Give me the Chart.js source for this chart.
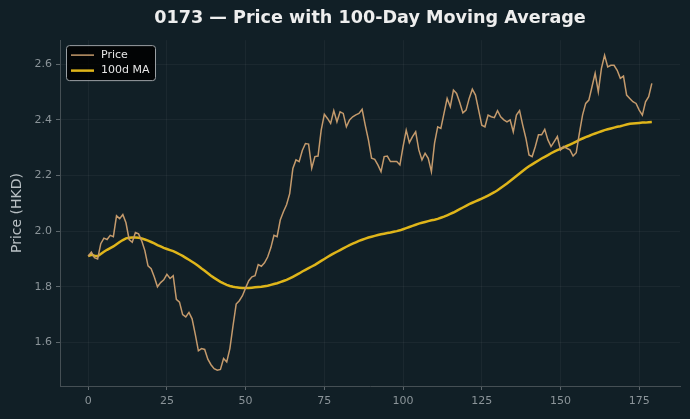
<!DOCTYPE html>
<html>
<head>
<meta charset="utf-8">
<title>0173 — Price with 100-Day Moving Average</title>
<script src="https://cdn.jsdelivr.net/npm/chart.js@4.4.1/dist/chart.umd.min.js"></script>
<style>
    html, body { margin: 0; padding: 0; background: #111f26; }
    #wrap { width: 690px; height: 419px; }
</style>
</head>
<body>
<div id="wrap"><canvas id="price-chart" width="690" height="419"></canvas></div>
<script>
// Cotação diária (HKD)
const price = [
    1.91, 1.925, 1.905, 1.90, 1.955, 1.975, 1.97, 1.985, 1.98, 2.055,
    2.045, 2.06, 2.03, 1.97, 1.96, 1.995, 1.99, 1.965, 1.93, 1.875,
    1.865, 1.835, 1.80, 1.815, 1.825, 1.845, 1.83, 1.84, 1.755, 1.745,
    1.70, 1.692, 1.708, 1.685, 1.63, 1.57, 1.578, 1.575, 1.54, 1.52,
    1.506, 1.50, 1.503, 1.542, 1.53, 1.578, 1.66, 1.738, 1.75, 1.768,
    1.796, 1.822, 1.836, 1.84, 1.88, 1.874, 1.886, 1.907, 1.94, 1.985,
    1.98, 2.04, 2.07, 2.095, 2.135, 2.225, 2.256, 2.25, 2.29, 2.315,
    2.313, 2.226, 2.268, 2.27, 2.363, 2.42, 2.405, 2.387, 2.433, 2.393,
    2.429, 2.423, 2.375, 2.40, 2.411, 2.418, 2.423, 2.438, 2.38, 2.328,
    2.262, 2.258, 2.238, 2.214, 2.268, 2.27, 2.25, 2.25, 2.25, 2.238,
    2.304, 2.363, 2.318, 2.34, 2.357, 2.292, 2.256, 2.28, 2.262, 2.214,
    2.316, 2.375, 2.369, 2.423, 2.477, 2.447, 2.507, 2.495, 2.462, 2.425,
    2.435, 2.477, 2.51, 2.489, 2.435, 2.381, 2.375, 2.417, 2.411, 2.408,
    2.433, 2.411, 2.40, 2.393, 2.40, 2.357, 2.417, 2.433, 2.381, 2.334,
    2.274, 2.268, 2.304, 2.346, 2.346, 2.366, 2.328, 2.304, 2.322, 2.34,
    2.292, 2.304, 2.298, 2.292, 2.27, 2.282, 2.352, 2.417, 2.459, 2.471,
    2.519, 2.567, 2.501, 2.585, 2.632, 2.59, 2.596, 2.596, 2.578, 2.549,
    2.557, 2.489, 2.477, 2.465, 2.459, 2.435, 2.417, 2.465, 2.483, 2.531
];

// Média móvel de 100 dias, também
const ma100 = [
    1.91, 1.915, 1.912, 1.91, 1.918, 1.926, 1.933, 1.939, 1.945, 1.953,
    1.961, 1.968, 1.974, 1.976, 1.977, 1.977, 1.976, 1.974, 1.97, 1.966,
    1.961, 1.956, 1.95, 1.945, 1.94, 1.936, 1.932, 1.928, 1.923, 1.917,
    1.911, 1.904, 1.897, 1.89, 1.883, 1.875, 1.866, 1.858, 1.849, 1.84,
    1.832, 1.825, 1.818, 1.812, 1.807, 1.803, 1.80, 1.798, 1.797, 1.796,
    1.796, 1.796, 1.797, 1.798, 1.799, 1.80, 1.802, 1.804, 1.807, 1.81,
    1.813, 1.817, 1.821, 1.825, 1.83, 1.836, 1.842, 1.848, 1.855, 1.861,
    1.867, 1.873, 1.879, 1.886, 1.893, 1.90, 1.907, 1.914, 1.92, 1.926,
    1.932, 1.938, 1.944, 1.95, 1.955, 1.96, 1.965, 1.969, 1.973, 1.977,
    1.98, 1.983, 1.986, 1.989, 1.991, 1.993, 1.995, 1.998, 2.00, 2.003,
    2.007, 2.011, 2.015, 2.019, 2.023, 2.027, 2.03, 2.033, 2.036, 2.039,
    2.041, 2.044, 2.048, 2.052, 2.057, 2.062, 2.067, 2.073, 2.079, 2.085,
    2.091, 2.097, 2.102, 2.107, 2.112, 2.117, 2.122, 2.128, 2.134, 2.14,
    2.147, 2.155, 2.163, 2.171, 2.18, 2.189, 2.198, 2.207, 2.216, 2.225,
    2.233, 2.24, 2.247, 2.254, 2.261, 2.267, 2.273, 2.28, 2.286, 2.291,
    2.296, 2.301, 2.306, 2.311, 2.316, 2.322, 2.328, 2.333, 2.338, 2.342,
    2.347, 2.351, 2.355, 2.359, 2.363, 2.366, 2.369, 2.372, 2.375, 2.377,
    2.38, 2.383, 2.386, 2.387, 2.388, 2.389, 2.39, 2.39, 2.391, 2.392
];

const xTicks = [0, 25, 50, 75, 100, 125, 150, 175];
const yTicks = [1.6, 1.8, 2.0, 2.2, 2.4, 2.6];

const BG = '#111f26';
const PRICE_COLOR = '#c49a6c';
const MA_COLOR = '#dfb51a';
const TICK_COLOR = '#8b9499';
const FONT = "'DejaVu Sans', sans-serif";

/**
 * Pinta o fundo do canvas
 */
const backgroundPlugin = {
    id: 'bg',
    beforeDraw(chart) {
        const c = chart.ctx;
        c.save();
        c.fillStyle = BG;
        c.fillRect(0, 0, chart.width, chart.height);
        c.restore();
    }
};

/**
 * Legenda dentro da área do gráfico (canto superior esquerdo)
 */
const insideLegendPlugin = {
    id: 'insideLegend',
    afterDraw(chart) {
        const c = chart.ctx;
        const a = chart.chartArea;
        const x = a.left + 6, y = a.top + 5, w = 89, h = 35;
        c.save();
        c.fillStyle = 'rgba(0,0,0,0.85)';
        c.strokeStyle = '#9aa0a4';
        c.lineWidth = 1;
        c.beginPath();
        c.roundRect(x + 0.5, y + 0.5, w, h, 3);
        c.fill();
        c.stroke();

        const items = chart.data.datasets.map(ds => ({ label: ds.label, color: ds.borderColor, width: ds.borderWidth }));
        c.font = '11px ' + FONT;
        c.textBaseline = 'middle';
        items.forEach((it, i) => {
            const ly = y + 10 + i * 15.5;
            c.strokeStyle = it.color;
            c.lineWidth = it.width;
            c.beginPath();
            c.moveTo(x + 5, ly);
            c.lineTo(x + 28, ly);
            c.stroke();
            c.fillStyle = '#e6e6e6';
            c.fillText(it.label, x + 35, ly);
        });
        c.restore();
    }
};

const ctx = document.getElementById('price-chart');

new Chart(ctx, {
    type: 'line',
    data: {
        datasets: [
            {
                label: 'Price',
                data: price.map((v, i) => ({ x: i, y: v })),
                borderColor: PRICE_COLOR,
                borderWidth: 1.5,
                pointRadius: 0,
                tension: 0
            },
            {
                label: '100d MA',
                data: ma100.map((v, i) => ({ x: i, y: v })),
                borderColor: MA_COLOR,
                borderWidth: 2.5,
                pointRadius: 0,
                tension: 0
            }
        ]
    },
    options: {
        responsive: false,
        animation: false,
        devicePixelRatio: 1,
        layout: {
            padding: { left: 0, right: 10, top: 0, bottom: 0 }
        },
        plugins: {
            legend: { display: false },
            tooltip: { enabled: false },
            title: {
                display: true,
                text: '0173 — Price with 100-Day Moving Average',
                color: '#eeeeee',
                fullSize: false,
                font: { family: FONT, size: 17.6, weight: 'bold' },
                padding: { top: 8, bottom: 11 }
            }
        },
        scales: {
            x: {
                type: 'linear',
                min: -8.95,
                max: 187.95,
                afterBuildTicks: scale => { scale.ticks = xTicks.map(v => ({ value: v })); },
                afterFit: scale => { scale.height = 33; },
                ticks: {
                    color: TICK_COLOR,
                    font: { family: FONT, size: 11 },
                    padding: 5,
                    maxRotation: 0
                },
                grid: {
                    color: 'rgba(255,255,255,0.045)',
                    tickColor: '#5d676c',
                    tickLength: 4
                },
                border: { color: '#454f54' }
            },
            y: {
                type: 'linear',
                min: 1.4435,
                max: 2.6865,
                afterBuildTicks: scale => { scale.ticks = yTicks.map(v => ({ value: v })); },
                afterFit: scale => { scale.width = 60; },
                ticks: {
                    color: TICK_COLOR,
                    font: { family: FONT, size: 11 },
                    padding: 4,
                    callback: v => v.toFixed(1)
                },
                grid: {
                    color: 'rgba(255,255,255,0.045)',
                    tickColor: '#5d676c',
                    tickLength: 4
                },
                border: { color: '#454f54' },
                title: {
                    display: true,
                    text: 'Price (HKD)',
                    color: '#b9c0c4',
                    font: { family: FONT, size: 14 },
                    padding: { top: 9, bottom: 0 }
                }
            }
        }
    },
    plugins: [backgroundPlugin, insideLegendPlugin]
});
</script>
</body>
</html>
